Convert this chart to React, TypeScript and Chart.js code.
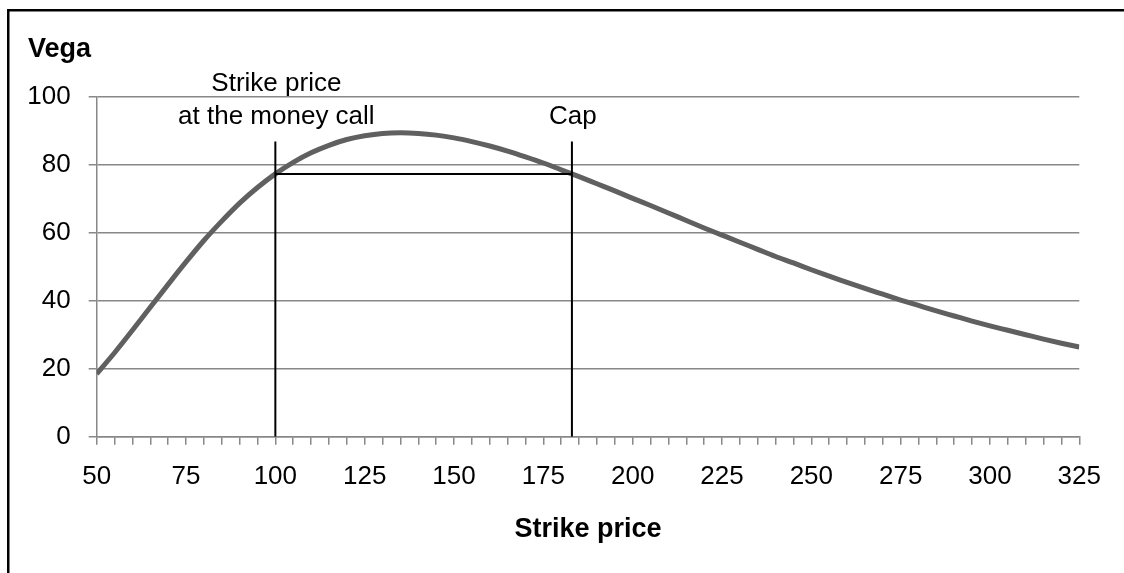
import { useEffect, useRef } from "react";
import { Chart, registerables } from "chart.js";

Chart.register(...registerables);

// ---- data ----
const strikes = [
  50, 55, 60, 65, 70, 75, 80, 85, 90, 95, 100, 105, 110, 115, 120, 125, 130, 135, 140, 145,
  150, 155, 160, 165, 170, 175, 180, 185, 190, 195, 200, 205, 210, 215, 220, 225, 230, 235,
  240, 245, 250, 255, 260, 265, 270, 275, 280, 285, 290, 295, 300, 305, 310, 315, 320, 325,
];
const vegaValues = [
  18.5, 24.7, 31.3, 38.1, 44.8, 51.4, 57.7, 63.4, 68.7, 73.3, 77.3, 80.7, 83.5, 85.7, 87.4,
  88.5, 89.2, 89.4, 89.2, 88.7, 87.9, 86.8, 85.5, 84.0, 82.3, 80.5, 78.5, 76.5, 74.4, 72.3,
  70.1, 68.0, 65.8, 63.6, 61.4, 59.3, 57.2, 55.1, 53.0, 51.1, 49.1, 47.2, 45.4, 43.6, 41.9,
  40.2, 38.6, 37.0, 35.5, 34.0, 32.6, 31.3, 30.0, 28.7, 27.5, 26.4,
];
const atmStrike = 100;
const capStrike = 183;
const markerVega = 77.3;
const markerTop = 86.8;
const xTickLabels = [50, 75, 100, 125, 150, 175, 200, 225, 250, 275, 300, 325];
const yTickValues = [0, 20, 40, 60, 80, 100];
const xAxisTitle = "Strike price";
const yAxisTitle = "Vega";
const atmLabelLines = ["Strike price", "at the money call"];
const capLabel = "Cap";

const FONT = '"Liberation Sans", Arial, Helvetica, sans-serif';
const GRID = "#888888";

const overlayPlugin = {
  id: "overlay",
  afterDraw(chart: any) {
    const { ctx, chartArea } = chart;
    const x = chart.scales.x;
    ctx.save();
    // outer frame
    ctx.strokeStyle = "#000";
    ctx.lineWidth = 2.5;
    ctx.strokeRect(8.25, 10.25, 1300, 800);
    ctx.fillStyle = "#000";
    // y title
    ctx.font = `bold 27px ${FONT}`;
    ctx.textAlign = "left";
    ctx.textBaseline = "alphabetic";
    ctx.fillText(yAxisTitle, 28, 57);
    // annotations
    ctx.font = `26px ${FONT}`;
    ctx.textAlign = "center";
    const ax = x.getPixelForValue(atmStrike) + 1;
    ctx.fillText(atmLabelLines[0], ax, chartArea.top - 6);
    ctx.fillText(atmLabelLines[1], ax, chartArea.top + 27);
    ctx.fillText(capLabel, x.getPixelForValue(capStrike) + 1, chartArea.top + 27);
    ctx.restore();
  },
};

export default function App() {
  const ref = useRef<HTMLCanvasElement | null>(null);

  useEffect(() => {
    if (!ref.current) return;
    const curve = strikes.map((s, i) => ({ x: s, y: vegaValues[i] }));
    const chart = new Chart(ref.current, {
      type: "scatter",
      data: {
        datasets: [
          {
            data: [
              { x: atmStrike, y: 0 },
              { x: atmStrike, y: markerTop },
            ],
            showLine: true,
            borderColor: "#000",
            borderWidth: 2,
            pointRadius: 0,
          },
          {
            data: [
              { x: capStrike, y: 0 },
              { x: capStrike, y: markerTop },
            ],
            showLine: true,
            borderColor: "#000",
            borderWidth: 2,
            pointRadius: 0,
          },
          {
            data: [
              { x: atmStrike, y: markerVega },
              { x: capStrike, y: markerVega },
            ],
            showLine: true,
            borderColor: "#000",
            borderWidth: 2,
            pointRadius: 0,
          },
          {
            data: curve,
            showLine: true,
            borderColor: "#606060",
            borderWidth: 5,
            pointRadius: 0,
            cubicInterpolationMode: "monotone",
          },
        ],
      },
      options: {
        animation: false,
        responsive: false,
        devicePixelRatio: 1,
        layout: { padding: { left: 0, right: 44.7, top: 96.7, bottom: 0 } },
        plugins: {
          legend: { display: false },
          tooltip: { enabled: false },
        },
        scales: {
          x: {
            type: "linear",
            min: 50,
            max: 325,
            afterFit: (s: any) => {
              s.height = 573 - 436.7;
            },
            ticks: {
              stepSize: 5,
              autoSkip: false,
              maxRotation: 0,
              minRotation: 0,
              padding: 17,
              color: "#000",
              font: { family: FONT, size: 26 },
              callback: (v: any) => (xTickLabels.includes(Number(v)) ? String(v) : ""),
            },
            grid: {
              drawOnChartArea: false,
              drawTicks: true,
              tickLength: 8,
              color: GRID,
              lineWidth: 1.5,
            },
            border: { display: true, color: GRID, width: 1.5 },
            title: {
              display: true,
              text: xAxisTitle,
              color: "#000",
              font: { family: FONT, size: 27, weight: "bold" },
              padding: { top: 0, bottom: 27 },
            },
          },
          y: {
            type: "linear",
            min: 0,
            max: 100,
            afterFit: (s: any) => {
              s.width = 96.7;
            },
            afterBuildTicks: (s: any) => {
              s.ticks = yTickValues.map((v) => ({ value: v }));
            },
            ticks: {
              padding: 18,
              color: "#000",
              font: { family: FONT, size: 26 },
            },
            grid: {
              drawTicks: true,
              tickLength: 8,
              color: GRID,
              lineWidth: 1.5,
            },
            border: { display: true, color: GRID, width: 1.5 },
          },
        },
      },
      plugins: [overlayPlugin],
    });
    return () => chart.destroy();
  }, []);

  return (
    <div style={{ position: "absolute", left: 0, top: 0, width: 1124, height: 573, overflow: "hidden", background: "#fff" }}>
      <canvas ref={ref} width={1124} height={573} style={{ display: "block" }} />
    </div>
  );
}
